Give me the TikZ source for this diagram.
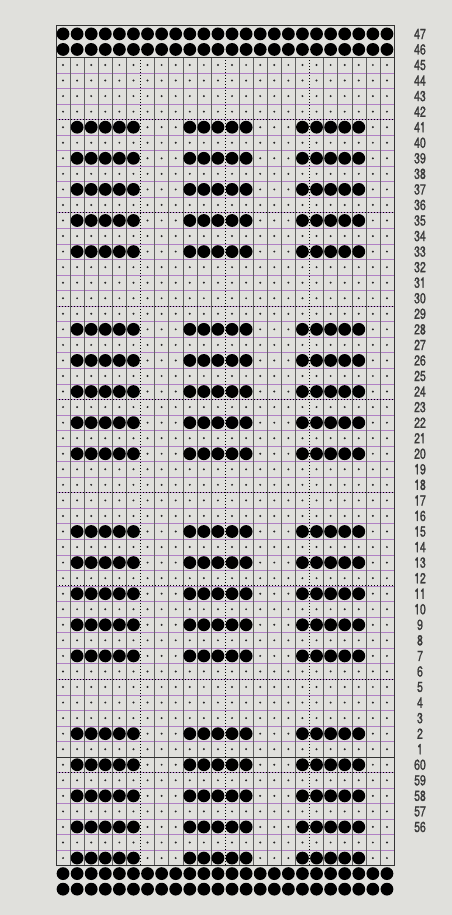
\documentclass[tikz,border=0pt]{standalone}
\usepackage{fontspec}
\usepackage{tikz}
\usetikzlibrary{positioning}
\newfontfamily\rowfont[FakeStretch=0.72,FakeBold=1.2]{TeX Gyre Heros}
\definecolor{cardgray}{RGB}{224,224,220}
\definecolor{rowline}{RGB}{176,128,196}
\definecolor{colline}{RGB}{96,96,96}
\definecolor{inkgray}{RGB}{58,58,58}

\begin{document}
\begin{tikzpicture}[x=1pt,y=-1pt,
    hole/.style={fill=black},
    pin/.style={fill=black!85},
    rowrule/.style={rowline,line width=0.5pt},
    colrule/.style={colline,line width=0.35pt},
    quarter/.style={black,line width=0.9pt,dash pattern=on 1.1pt off 1.9pt},
    border/.style={black!80,line width=0.8pt},
    rowlabel/.style={inkgray,font=\rowfont\fontsize{14.5}{14.5}\selectfont}]
  % 24 stitches wide, row height 15.55, column width 14.083
  \def\cw{14.083}
  \def\rh{15.55}
  \useasboundingbox (0,0) rectangle (452,915);
  \fill[cardgray] (0,0) rectangle (452,915);
  % row rules
  \foreach \i in {0,...,50}
    \draw[rowrule] (56,{65+\rh*(\i+0.5)}) -- (394,{65+\rh*(\i+0.5)});
  % column rules, every sixth one dotted
  \foreach \k in {1,...,23} {
    \pgfmathtruncatemacro\m{mod(\k,6)}
    \ifnum\m=0
      \draw[quarter] ({56+\cw*\k},57.2) -- ({56+\cw*\k},865.8);
    \else
      \draw[colrule] ({56+\cw*\k},57.2) -- ({56+\cw*\k},865.8);
    \fi
  }
  % dotted rules every sixth row
  \foreach \i in {3,9,...,45}
    \draw[quarter] (56,{65+\rh*(\i+0.5)}) -- (394,{65+\rh*(\i+0.5)});
  % join of the card (between 1 and 60)
  \draw[border] (56,{65+\rh*44.5}) -- (394,{65+\rh*44.5});
  % frame
  \draw[border] (56,57.2) -- (394,57.2);
  \draw[border] (56,25) rectangle (394,865.8);
  % pin holes in every cell
  \foreach \i in {0,...,51}
    \foreach \c in {1,...,24}
      \fill[pin] ({56+\cw*(\c-0.5)},{65+\rh*\i}) circle[radius=1.1pt];
  % punched holes of the pattern: three blocks of five
  \foreach \i in {4,6,...,12,17,19,...,25,30,32,...,38,43,45,...,51}
    \foreach \g in {0,8,16}
      \foreach \c in {2,...,6}
        \fill[hole] ({56+\cw*(\c+\g-0.5)},{65+\rh*\i}) circle[radius=6.4pt];
  % full rows at the start and the end of the card
  \foreach \i in {-2,-1,52,53}
    \foreach \c in {1,...,24}
      \fill[hole] ({56+\cw*(\c-0.5)},{65+\rh*\i}) circle[radius=6.4pt];
  % row numbers
  \foreach \n [count=\i from -2] in {47,46,...,1,60,59,...,56}
    \node[rowlabel] (row\n) at (420,{65+\rh*\i}) {\n};
\end{tikzpicture}
\end{document}
